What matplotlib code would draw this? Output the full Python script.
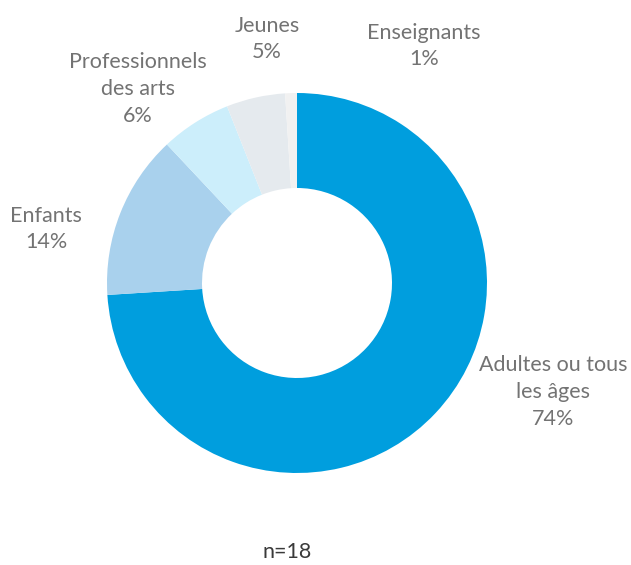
import matplotlib
matplotlib.use("Agg")
import matplotlib.pyplot as plt

categories = ["Adultes ou tous\nles âges", "Enfants", "Professionnels\ndes arts", "Jeunes", "Enseignants"]
values = [74, 14, 6, 5, 1]
colors = ["#009EDE", "#A9D1ED", "#CCEEFB", "#E5EAEE", "#F1F1F1"]
note = "n=18"

W, H = 631, 565
fig = plt.figure(figsize=(W / 100, H / 100), dpi=100)
ax = fig.add_axes([0, 0, 1, 1])

cx, cy, r = 297, H - 283, 190
ax.pie(values, colors=colors, startangle=90, counterclock=False, radius=r,
       center=(cx, cy), wedgeprops=dict(width=r * 0.5, linewidth=0),
       frame=True)
ax.set_xlim(0, W)
ax.set_ylim(0, H)
ax.set_aspect("equal")
ax.axis("off")

label_pos = [(553, 392), (46, 229), (138, 89), (267, 39), (424, 46)]
tkw = dict(ha="center", va="center", color="#737373", fontsize=15.5,
           family="Lato", fontweight="normal", linespacing=1.42)
for cat, v, (px, py) in zip(categories, values, label_pos):
    ax.text(px, H - py, f"{cat}\n{v}%", **tkw)

ax.text(287, H - 552, note, ha="center", va="center", color="#3a3a3a",
        fontsize=15.5, family="Lato", fontweight="normal")

fig.savefig("out.png", dpi=100)
